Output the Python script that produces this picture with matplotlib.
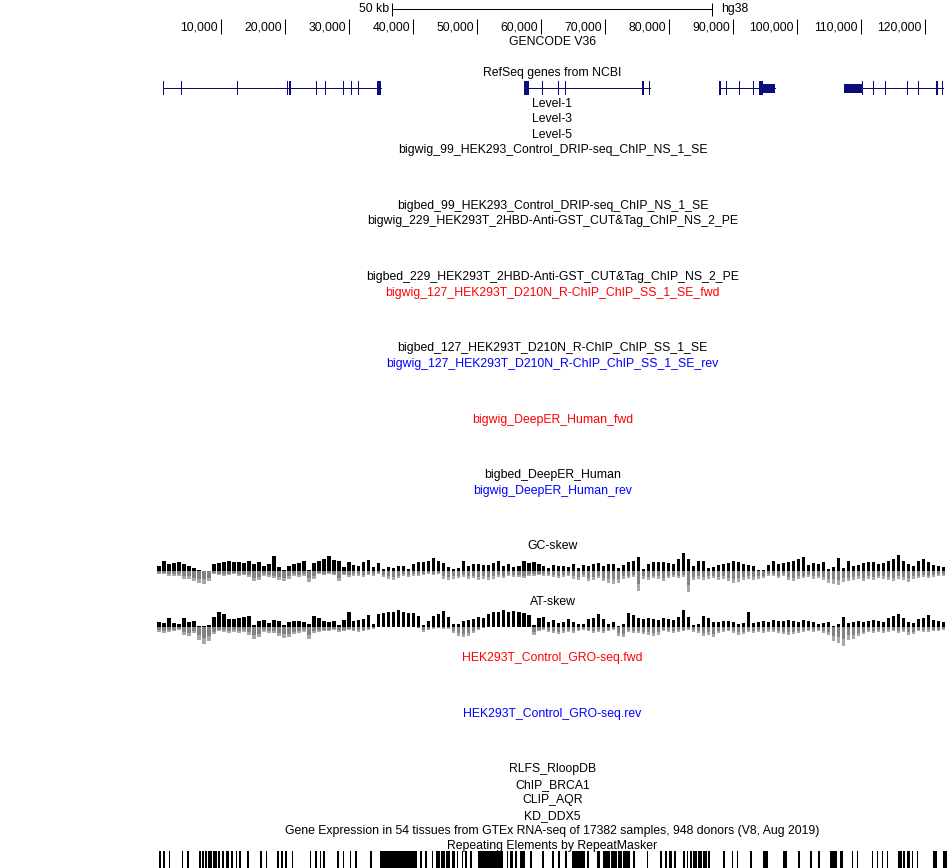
import numpy as np
import matplotlib
matplotlib.use("Agg")
import matplotlib.pyplot as plt
from matplotlib.transforms import offset_copy

plt.rcParams['font.family'] = ['Liberation Sans', 'DejaVu Sans']

# ---- data (positions in kb) ----
ruler_ticks = [10, 20, 30, 40, 50, 60, 70, 80, 90, 100, 110, 120]
ruler_labels = ["10,000", "20,000", "30,000", "40,000", "50,000", "60,000",
                "70,000", "80,000", "90,000", "100,000", "110,000", "120,000"]
scalebar_start = 36.7
scalebar_len = 50

# RefSeq genes: (start, end), exons (start, end), UTR blocks (half height)
gene_spans = [(0.98, 34.95), (57.34, 77.03), (87.86, 96.56), (107.34, 122.86)]
gene_exons = [
    [(0.98, 1.14), (3.70, 3.86), (12.48, 12.64), (20.36, 20.50), (20.64, 20.92),
     (24.78, 24.94), (26.18, 26.34), (29.04, 29.20), (30.30, 30.46), (31.38, 31.54),
     (34.30, 34.95)],
    [(57.34, 58.08), (60.12, 60.28), (62.62, 62.78), (63.68, 63.84), (75.83, 76.14),
     (76.87, 77.03)],
    [(87.86, 88.08), (88.92, 89.08), (91.01, 91.17), (93.09, 93.25), (94.11, 94.73)],
    [(110.20, 110.36), (111.85, 112.01), (113.79, 113.95), (117.16, 117.32),
     (118.88, 119.04), (121.72, 121.98), (122.70, 122.86)],
]
gene_utrs = [[], [], [(94.73, 96.56)], [(107.34, 110.27)]]

# skew tracks, 158 bins of ~0.78 kb from 0 kb (values in track height units)
gc_pos = [5, 10, 7, 8, 9, 7, 5, 3, 1, 0, 0, 7, 8, 9, 10, 9, 9, 8, 10, 7,
          9, 5, 7, 15, 4, 1, 5, 7, 8, 10, 1, 8, 10, 12, 15, 11, 10, 4, 9, 6,
          5, 9, 11, 4, 8, 2, 4, 3, 5, 5, 2, 7, 9, 9, 10, 13, 10, 8, 4, 2,
          3, 10, 5, 7, 7, 6, 6, 8, 10, 5, 7, 4, 5, 10, 8, 9, 7, 5, 3, 6,
          5, 5, 4, 7, 3, 6, 5, 7, 8, 5, 7, 7, 3, 6, 9, 10, 14, 2, 7, 9,
          9, 9, 8, 7, 12, 18, 12, 5, 10, 10, 3, 4, 6, 7, 8, 10, 9, 7, 6, 5,
          1, 1, 6, 10, 7, 8, 9, 10, 12, 14, 6, 8, 7, 9, 2, 4, 13, 3, 10, 5,
          6, 8, 9, 9, 7, 8, 10, 12, 16, 10, 7, 5, 10, 12, 9, 6, 5, 4]
gc_neg = [3, 3, 5, 5, 5, 8, 8, 10, 12, 13, 10, 3, 4, 5, 4, 3, 5, 4, 6, 10,
          9, 5, 6, 7, 9, 10, 8, 5, 6, 5, 11, 8, 3, 4, 3, 4, 10, 4, 6, 5,
          5, 6, 4, 5, 3, 6, 8, 9, 7, 5, 6, 5, 5, 4, 3, 4, 3, 8, 9, 8,
          7, 6, 8, 7, 9, 8, 9, 8, 6, 7, 5, 6, 6, 7, 5, 5, 4, 5, 5, 6,
          7, 6, 5, 8, 9, 6, 10, 9, 7, 10, 12, 13, 12, 8, 7, 6, 20, 8, 9, 7,
          8, 10, 7, 6, 7, 6, 21, 9, 8, 9, 8, 7, 9, 8, 10, 12, 11, 9, 8, 9,
          8, 7, 5, 5, 7, 5, 9, 10, 8, 7, 6, 8, 7, 9, 12, 13, 14, 11, 10, 9,
          8, 10, 8, 9, 7, 8, 9, 10, 8, 9, 11, 8, 7, 6, 7, 6, 5, 5]
at_pos = [5, 4, 9, 4, 3, 9, 5, 6, 1, 1, 2, 10, 15, 13, 8, 8, 9, 10, 11, 2,
          6, 7, 4, 7, 6, 2, 5, 6, 6, 5, 3, 11, 9, 6, 5, 6, 2, 7, 15, 6,
          7, 8, 12, 3, 13, 14, 15, 15, 17, 15, 14, 14, 11, 2, 6, 11, 13, 16, 10, 3,
          3, 6, 7, 8, 10, 9, 13, 15, 15, 17, 15, 16, 15, 14, 12, 2, 9, 10, 5, 7,
          4, 5, 8, 5, 3, 3, 8, 9, 13, 8, 3, 5, 1, 3, 14, 12, 9, 8, 9, 8,
          7, 9, 8, 7, 10, 17, 10, 2, 3, 11, 9, 5, 5, 6, 6, 5, 3, 4, 15, 4,
          5, 6, 5, 7, 6, 6, 7, 6, 5, 7, 6, 5, 3, 4, 5, 1, 3, 10, 4, 5,
          6, 5, 6, 7, 6, 5, 9, 11, 13, 9, 5, 4, 8, 9, 12, 7, 6, 5]
at_neg = [5, 6, 5, 4, 3, 8, 9, 6, 13, 17, 14, 7, 4, 5, 6, 5, 6, 5, 8, 12,
          10, 5, 6, 6, 9, 11, 10, 7, 6, 5, 12, 6, 5, 4, 4, 3, 5, 4, 3, 4,
          5, 4, 3, 2, 0, 0, 0, 0, 0, 0, 0, 0, 1, 5, 3, 2, 1, 2, 2, 6,
          9, 10, 9, 6, 3, 1, 0, 0, 0, 0, 0, 0, 0, 0, 0, 8, 4, 3, 5, 6,
          7, 6, 5, 6, 4, 3, 4, 6, 5, 6, 4, 3, 9, 10, 5, 6, 6, 7, 8, 9,
          8, 4, 5, 6, 5, 4, 3, 5, 6, 9, 8, 10, 6, 5, 4, 6, 8, 7, 5, 6,
          5, 6, 5, 5, 6, 7, 8, 7, 6, 5, 4, 5, 4, 6, 8, 14, 16, 19, 13, 12,
          9, 7, 5, 6, 5, 6, 5, 4, 6, 5, 8, 7, 4, 5, 5, 4, 4, 3]
skew_bin = 0.78125

# RepeatMasker elements (start, end) kb
repeats = [(0.36, 0.63), (0.99, 1.25), (1.88, 2.03), (3.85, 4.11), (4.64, 5.05),
           (6.61, 6.82), (7.08, 7.34), (7.55, 7.86), (8.02, 8.54), (8.70, 9.33),
           (9.58, 9.84), (10.10, 10.47), (10.78, 11.30), (11.56, 11.82), (12.34, 12.55),
           (12.86, 13.07), (14.01, 14.32), (16.09, 16.41), (17.03, 17.24), (18.80, 19.06),
           (19.38, 19.64), (19.95, 20.36), (21.04, 21.30), (23.91, 24.11), (24.69, 24.95),
           (25.47, 25.68), (25.99, 26.20), (28.08, 28.39), (29.02, 29.22), (30.16, 30.36),
           (30.94, 31.20), (33.28, 33.59), (34.84, 40.58), (41.09, 41.36), (41.88, 42.14),
           (42.92, 43.18), (43.59, 44.22), (44.38, 45.00), (45.16, 45.78), (46.04, 46.56),
           (46.82, 47.08), (47.60, 47.86), (48.13, 48.39), (48.91, 49.17), (50.21, 54.11),
           (54.64, 54.90), (55.16, 55.67), (55.94, 56.20), (56.72, 57.50), (58.28, 58.55),
           (60.10, 60.47), (61.67, 62.03), (62.70, 62.97), (63.75, 64.02), (64.80, 66.88),
           (67.14, 67.45), (68.70, 69.22), (69.73, 70.78), (70.89, 71.83), (72.08, 72.61),
           (72.86, 73.91), (74.42, 74.69), (76.52, 76.77), (78.59, 78.86), (79.38, 79.64),
           (80.05, 80.42), (80.78, 81.09), (82.24, 82.50), (82.77, 83.02), (83.28, 83.55),
           (83.80, 84.33), (84.58, 85.11), (85.36, 85.89), (86.14, 86.41), (88.48, 88.75),
           (89.80, 90.05), (90.58, 90.83), (92.66, 92.92), (94.73, 95.52), (97.86, 98.39),
           (100.20, 100.47), (102.03, 102.30), (103.33, 103.59), (105.16, 106.20),
           (106.72, 107.23), (108.55, 108.80), (109.33, 109.59), (111.67, 111.92),
           (112.45, 112.70), (113.23, 113.48), (114.02, 114.27), (115.83, 116.36),
           (116.61, 116.88), (117.14, 117.66), (117.92, 118.17), (118.70, 118.95),
           (121.30, 121.83), (122.86, 123.39)]

# track labels: (text, colour, y in pixels)
labels = [
    ("GENCODE V36", "black", 42),
    ("RefSeq genes from NCBI", "black", 73),
    ("Level-1", "black", 104),
    ("Level-3", "black", 119),
    ("Level-5", "black", 135),
    ("bigwig_99_HEK293_Control_DRIP-seq_ChIP_NS_1_SE", "black", 150),
    ("bigbed_99_HEK293_Control_DRIP-seq_ChIP_NS_1_SE", "black", 206),
    ("bigwig_229_HEK293T_2HBD-Anti-GST_CUT&Tag_ChIP_NS_2_PE", "black", 221),
    ("bigbed_229_HEK293T_2HBD-Anti-GST_CUT&Tag_ChIP_NS_2_PE", "black", 277),
    ("bigwig_127_HEK293T_D210N_R-ChIP_ChIP_SS_1_SE_fwd", "red", 293),
    ("bigbed_127_HEK293T_D210N_R-ChIP_ChIP_SS_1_SE", "black", 348),
    ("bigwig_127_HEK293T_D210N_R-ChIP_ChIP_SS_1_SE_rev", "blue", 364),
    ("bigwig_DeepER_Human_fwd", "red", 420),
    ("bigbed_DeepER_Human", "black", 475),
    ("bigwig_DeepER_Human_rev", "blue", 491),
    ("GC-skew", "black", 546),
    ("AT-skew", "black", 602),
    ("HEK293T_Control_GRO-seq.fwd", "red", 658),
    ("HEK293T_Control_GRO-seq.rev", "blue", 714),
    ("RLFS_RloopDB", "black", 769),
    ("ChIP_BRCA1", "black", 785),
    ("CLIP_AQR", "black", 800),
    ("KD_DDX5", "black", 816),
    ("Gene Expression in 54 tissues from GTEx RNA-seq of 17382 samples, 948 donors (V8, Aug 2019)", "black", 831),
    ("Repeating Elements by RepeatMasker", "black", 846),
]

FS = 8.8
LW = 0.72  # one pixel
W, H = 950, 868
x0, x1 = 157, 948
kb_per_px = 0.15625

fig = plt.figure(figsize=(W / 100, H / 100), dpi=100)
ax = fig.add_axes([x0 / W, 0, (x1 - x0) / W, 1])
ax.set_xlim(0, (x1 - x0) * kb_per_px)
ax.set_ylim(H, 0)
ax.axis('off')
mid = (x1 - x0) * kb_per_px / 2

# scale bar
ax.plot([scalebar_start, scalebar_start + scalebar_len], [9, 9], color='black', lw=LW)
ax.vlines([scalebar_start, scalebar_start + scalebar_len], 3, 16, color='black', lw=LW)
ax.text(scalebar_start, 9, "50 kb", ha='right', va='center', fontsize=FS,
        transform=offset_copy(ax.transData, fig, x=-3, y=0, units='dots'))
ax.text(scalebar_start + scalebar_len, 9, "hg38", ha='left', va='center', fontsize=FS,
        transform=offset_copy(ax.transData, fig, x=9, y=0, units='dots'))

# ruler
ax.vlines(ruler_ticks, 19, 34, color='black', lw=LW)
for t, lab in zip(ruler_ticks, ruler_labels):
    ax.text(t, 27, lab, ha='right', va='center', fontsize=FS,
            transform=offset_copy(ax.transData, fig, x=-3, y=0, units='dots'))

# genes
gcol = '#0c0c78'
gy = 88
for span, exons, utrs in zip(gene_spans, gene_exons, gene_utrs):
    ax.plot(span, [gy, gy], color=gcol, lw=LW)
    ax.broken_barh([(s, e - s) for s, e in exons], (gy - 7, 14), color=gcol, lw=0)
    if utrs:
        ax.broken_barh([(s, e - s) for s, e in utrs], (gy - 4.5, 9), color=gcol, lw=0)

# skew tracks
xs = np.arange(len(gc_pos)) * skew_bin
bw = skew_bin * 0.7
for pos, neg, base in [(gc_pos, gc_neg, 571), (at_pos, at_neg, 627)]:
    pos = np.array(pos, dtype=float)
    neg = np.array(neg, dtype=float)
    ax.bar(xs, -pos, width=bw, bottom=base, align='edge', color='black', lw=0)
    ax.bar(xs, neg, width=bw, bottom=base, align='edge', color='#a8a8a8', lw=0)
    ax.bar(xs, neg * 0.65, width=bw, bottom=base, align='edge', color='#828282', lw=0)

# repeats
ax.broken_barh([(s, e - s) for s, e in repeats], (851, 17), color='black', lw=0)

# labels
for text, col, y in labels:
    ax.text(mid, y, text, ha='center', va='center', color=col, fontsize=FS)

fig.savefig('out.png', dpi=100)
